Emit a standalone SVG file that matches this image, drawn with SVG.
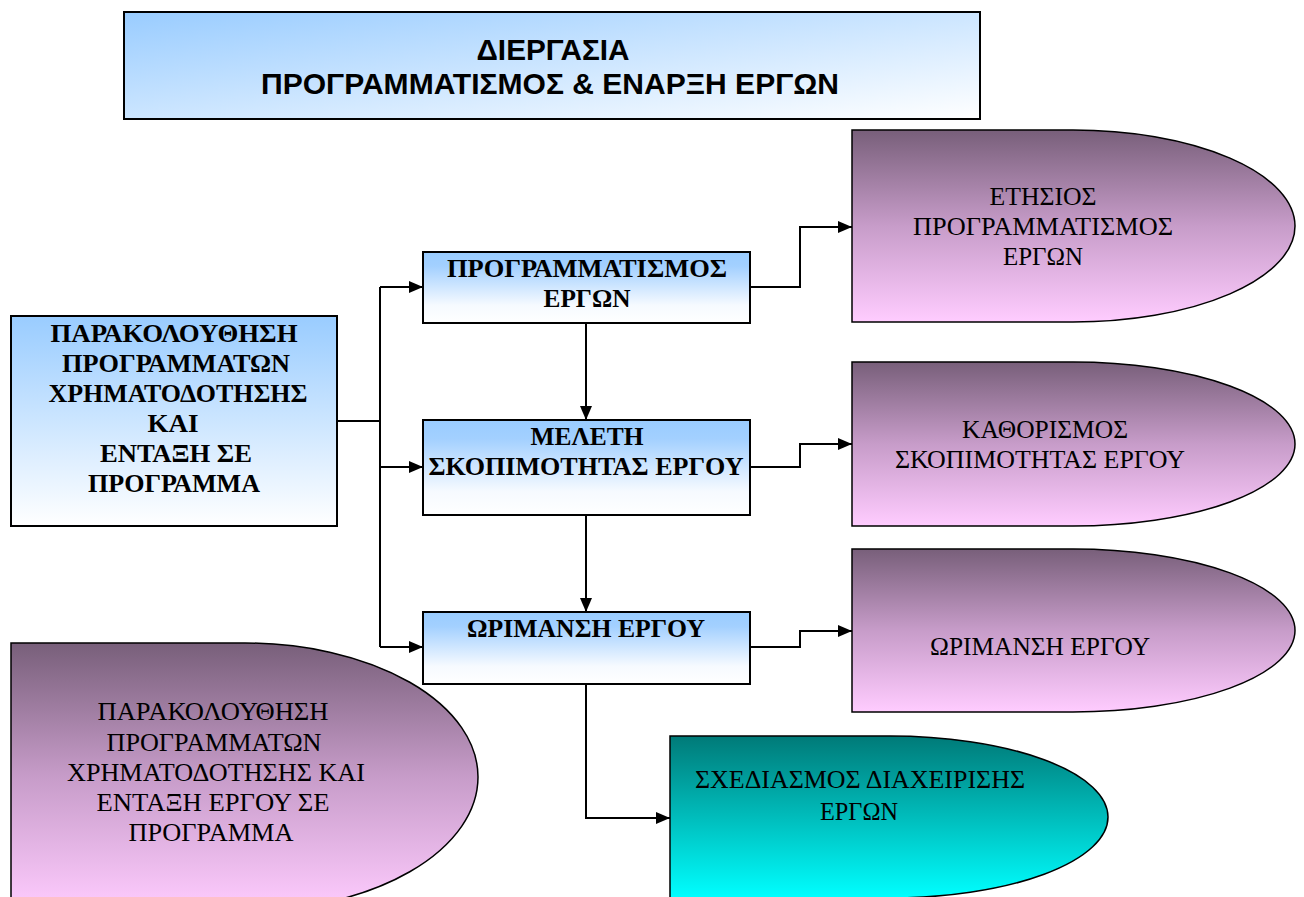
<svg xmlns="http://www.w3.org/2000/svg" width="1304" height="897" viewBox="0 0 1304 897">
  <defs>
    <linearGradient id="gTitle" x1="0" y1="0" x2="1" y2="1">
      <stop offset="0" stop-color="#99ccff"/>
      <stop offset="1" stop-color="#ffffff"/>
    </linearGradient>
    <linearGradient id="gBlue" x1="0" y1="0" x2="0" y2="1">
      <stop offset="0" stop-color="#99ccff"/>
      <stop offset="1" stop-color="#ffffff"/>
    </linearGradient>
    <linearGradient id="gBlueBox" x1="0" y1="0" x2="0" y2="1">
      <stop offset="0" stop-color="#99ccff"/>
      <stop offset="0.2" stop-color="#a3d0ff"/>
      <stop offset="0.75" stop-color="#f6faff"/>
      <stop offset="1" stop-color="#ffffff"/>
    </linearGradient>
    <linearGradient id="gPurple" x1="0" y1="0" x2="0" y2="1">
      <stop offset="0" stop-color="#785f7a"/>
      <stop offset="0.5" stop-color="#c79cc9"/>
      <stop offset="1" stop-color="#ffccff"/>
    </linearGradient>
    <linearGradient id="gTeal" x1="0" y1="0" x2="0" y2="1">
      <stop offset="0" stop-color="#007a78"/>
      <stop offset="1" stop-color="#00ffff"/>
    </linearGradient>
    <marker id="arrow" viewBox="0 0 14 12" refX="14" refY="6" markerWidth="14" markerHeight="12" markerUnits="userSpaceOnUse" orient="auto">
      <path d="M0,0 L14,6 L0,12 Z" fill="#000"/>
    </marker>
  </defs>
  <style>
    .box { stroke: #000; stroke-width: 2; }
    .shape { stroke: #000; stroke-width: 1.5; }
    .title { font-family: "Liberation Sans", Arial, sans-serif; font-weight: bold; font-size: 30px; text-anchor: middle; fill: #000; }
    .bold { font-family: "Liberation Serif", "Times New Roman", serif; font-weight: bold; font-size: 26px; text-anchor: middle; fill: #000; }
    .plain { font-family: "Liberation Serif", "Times New Roman", serif; font-size: 25px; text-anchor: middle; fill: #000; }
    .conn { fill: none; stroke: #000; stroke-width: 2; }
  </style>
  <rect width="1304" height="897" fill="#ffffff"/>

  <!-- Title banner -->
  <g id="title">
    <rect class="box" x="124" y="12" width="856" height="107" fill="url(#gTitle)"/>
    <text class="title" x="553" y="60" textLength="153" lengthAdjust="spacingAndGlyphs">ΔΙΕΡΓΑΣΙΑ</text>
    <text class="title" x="550" y="94" textLength="578" lengthAdjust="spacingAndGlyphs">ΠΡΟΓΡΑΜΜΑΤΙΣΜΟΣ &amp; ΕΝΑΡΞΗ ΕΡΓΩΝ</text>
  </g>

  <!-- Connectors -->
  <g id="connectors">
    <polyline class="conn" points="337,421 380,421"/>
    <polyline class="conn" points="380,287 380,647"/>
    <polyline class="conn" points="380,287 423,287" marker-end="url(#arrow)"/>
    <polyline class="conn" points="380,467 423,467" marker-end="url(#arrow)"/>
    <polyline class="conn" points="380,647 423,647" marker-end="url(#arrow)"/>
    <polyline class="conn" points="586,323 586,420" marker-end="url(#arrow)"/>
    <polyline class="conn" points="586,515 586,612" marker-end="url(#arrow)"/>
    <polyline class="conn" points="586,684 586,818 670,818" marker-end="url(#arrow)"/>
    <polyline class="conn" points="750,287 800,287 800,227 852,227" marker-end="url(#arrow)"/>
    <polyline class="conn" points="750,467 800,467 800,444 852,444" marker-end="url(#arrow)"/>
    <polyline class="conn" points="750,647 800,647 800,631 852,631" marker-end="url(#arrow)"/>
  </g>

  <!-- Left process box -->
  <g id="monitoring">
    <rect class="box" x="11" y="316" width="326" height="210" fill="url(#gBlue)"/>
    <text class="bold" x="174" y="342" textLength="247" lengthAdjust="spacingAndGlyphs">ΠΑΡΑΚΟΛΟΥΘΗΣΗ</text>
    <text class="bold" x="176" y="372" textLength="228" lengthAdjust="spacingAndGlyphs">ΠΡΟΓΡΑΜΜΑΤΩΝ</text>
    <text class="bold" x="178" y="402" textLength="259" lengthAdjust="spacingAndGlyphs">ΧΡΗΜΑΤΟΔΟΤΗΣΗΣ</text>
    <text class="bold" x="173" y="432" textLength="51" lengthAdjust="spacingAndGlyphs">ΚΑΙ</text>
    <text class="bold" x="176" y="462" textLength="152" lengthAdjust="spacingAndGlyphs">ΕΝΤΑΞΗ ΣΕ</text>
    <text class="bold" x="174" y="492" textLength="172" lengthAdjust="spacingAndGlyphs">ΠΡΟΓΡΑΜΜΑ</text>
  </g>

  <!-- Middle process boxes -->
  <g id="planning">
    <rect class="box" x="423" y="252" width="327" height="71" fill="url(#gBlueBox)"/>
    <text class="bold" x="587" y="277" textLength="280" lengthAdjust="spacingAndGlyphs">ΠΡΟΓΡΑΜΜΑΤΙΣΜΟΣ</text>
    <text class="bold" x="587" y="307" textLength="87" lengthAdjust="spacingAndGlyphs">ΕΡΓΩΝ</text>
  </g>
  <g id="feasibility">
    <rect class="box" x="423" y="420" width="327" height="95" fill="url(#gBlueBox)"/>
    <text class="bold" x="587" y="445" textLength="113" lengthAdjust="spacingAndGlyphs">ΜΕΛΕΤΗ</text>
    <text class="bold" x="586" y="475" textLength="315" lengthAdjust="spacingAndGlyphs">ΣΚΟΠΙΜΟΤΗΤΑΣ ΕΡΓΟΥ</text>
  </g>
  <g id="maturation">
    <rect class="box" x="423" y="612" width="327" height="72" fill="url(#gBlueBox)"/>
    <text class="bold" x="586" y="637" textLength="238" lengthAdjust="spacingAndGlyphs">ΩΡΙΜΑΝΣΗ ΕΡΓΟΥ</text>
  </g>

  <!-- Output shapes (straight left side, elliptical right end) -->
  <g id="annual-plan">
    <path class="shape" d="M852,130 H1073 A222,96 0 0 1 1073,322 H852 Z" fill="url(#gPurple)"/>
    <text class="plain" x="1043" y="205" textLength="107" lengthAdjust="spacingAndGlyphs">ΕΤΗΣΙΟΣ</text>
    <text class="plain" x="1043" y="235" textLength="260" lengthAdjust="spacingAndGlyphs">ΠΡΟΓΡΑΜΜΑΤΙΣΜΟΣ</text>
    <text class="plain" x="1043" y="265" textLength="80" lengthAdjust="spacingAndGlyphs">ΕΡΓΩΝ</text>
  </g>
  <g id="feasibility-result">
    <path class="shape" d="M852,362 H1073 A222,82 0 0 1 1073,526 H852 Z" fill="url(#gPurple)"/>
    <text class="plain" x="1045" y="438" textLength="166" lengthAdjust="spacingAndGlyphs">ΚΑΘΟΡΙΣΜΟΣ</text>
    <text class="plain" x="1040" y="468" textLength="290" lengthAdjust="spacingAndGlyphs">ΣΚΟΠΙΜΟΤΗΤΑΣ ΕΡΓΟΥ</text>
  </g>
  <g id="maturation-result">
    <path class="shape" d="M852,549 H1073 A222,81.5 0 0 1 1073,712 H852 Z" fill="url(#gPurple)"/>
    <text class="plain" x="1040" y="655" textLength="220" lengthAdjust="spacingAndGlyphs">ΩΡΙΜΑΝΣΗ ΕΡΓΟΥ</text>
  </g>
  <g id="inclusion-result">
    <path class="shape" d="M11,643 H245 A233,134 0 0 1 245,911 H11 Z" fill="url(#gPurple)"/>
    <text class="plain" x="213" y="720" textLength="231" lengthAdjust="spacingAndGlyphs">ΠΑΡΑΚΟΛΟΥΘΗΣΗ</text>
    <text class="plain" x="214" y="751" textLength="215" lengthAdjust="spacingAndGlyphs">ΠΡΟΓΡΑΜΜΑΤΩΝ</text>
    <text class="plain" x="216" y="781" textLength="298" lengthAdjust="spacingAndGlyphs">ΧΡΗΜΑΤΟΔΟΤΗΣΗΣ ΚΑΙ</text>
    <text class="plain" x="213" y="811" textLength="233" lengthAdjust="spacingAndGlyphs">ΕΝΤΑΞΗ ΕΡΓΟΥ ΣΕ</text>
    <text class="plain" x="211" y="841" textLength="165" lengthAdjust="spacingAndGlyphs">ΠΡΟΓΡΑΜΜΑ</text>
  </g>
  <g id="management-plan">
    <path class="shape" d="M670,736 H890 A218,81 0 0 1 890,898 H670 Z" fill="url(#gTeal)"/>
    <text class="plain" x="860" y="788" textLength="330" lengthAdjust="spacingAndGlyphs">ΣΧΕΔΙΑΣΜΟΣ ΔΙΑΧΕΙΡΙΣΗΣ</text>
    <text class="plain" x="859" y="820" textLength="78" lengthAdjust="spacingAndGlyphs">ΕΡΓΩΝ</text>
  </g>
</svg>
